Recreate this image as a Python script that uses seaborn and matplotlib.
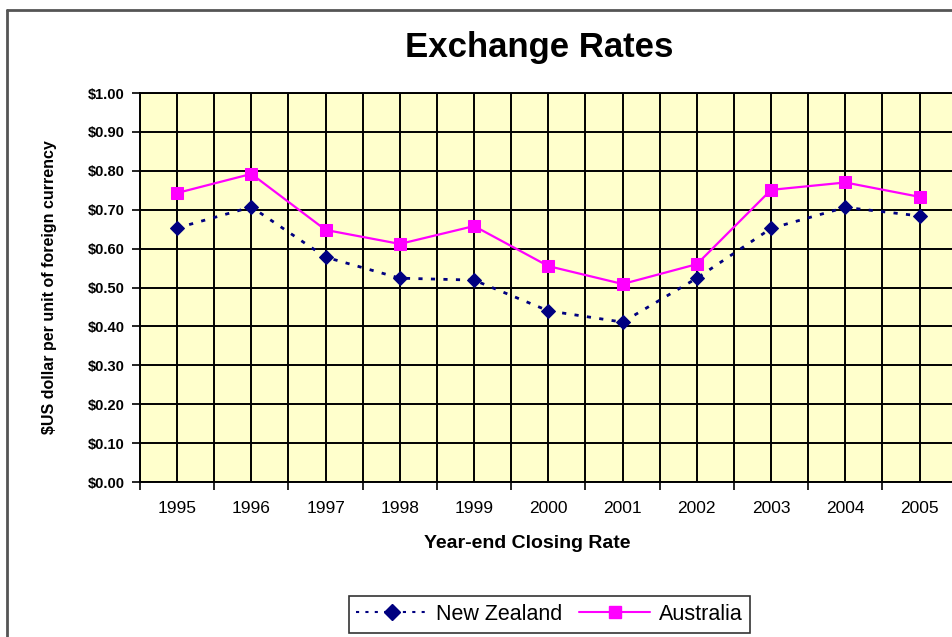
import numpy as np
import pandas as pd
import matplotlib
matplotlib.use("Agg")
import matplotlib.pyplot as plt
from matplotlib.lines import Line2D
import seaborn as sns

years = ["1995", "1996", "1997", "1998", "1999", "2000", "2001", "2002", "2003", "2004", "2005"]
new_zealand = [0.653, 0.707, 0.578, 0.524, 0.519, 0.440, 0.411, 0.524, 0.652, 0.706, 0.684]
australia = [0.743, 0.792, 0.648, 0.612, 0.658, 0.555, 0.509, 0.560, 0.751, 0.770, 0.733]
y_ticks = [0.0, 0.1, 0.2, 0.3, 0.4, 0.5, 0.6, 0.7, 0.8, 0.9, 1.0]
y_tick_labels = ["$0.00", "$0.10", "$0.20", "$0.30", "$0.40", "$0.50",
                 "$0.60", "$0.70", "$0.80", "$0.90", "$1.00"]

sns.set_theme(style="white")
plt.rcParams['font.family'] = ['Liberation Sans', 'DejaVu Sans']
plt.rcParams['text.color'] = 'black'
plt.rcParams['axes.labelcolor'] = 'black'
plt.rcParams['xtick.color'] = 'black'
plt.rcParams['ytick.color'] = 'black'

df = pd.DataFrame({
    "idx": list(range(len(years))) * 2,
    "rate": new_zealand + australia,
    "country": ["New Zealand"] * len(years) + ["Australia"] * len(years),
})

fig = plt.figure(figsize=(9.53, 6.37), dpi=100)
ax = fig.add_axes([0.1469, 0.2433, 0.857, 0.6107])
ax.set_facecolor("#FFFFCC")

sns.lineplot(data=df[df.country == "New Zealand"], x="idx", y="rate", ax=ax,
             color="#000080", linestyle=(0, (1.5, 3)), linewidth=2,
             marker="D", markersize=7, markeredgecolor="#000080", legend=False, zorder=4)
sns.lineplot(data=df[df.country == "Australia"], x="idx", y="rate", ax=ax,
             color="#FF00FF", linestyle="-", linewidth=1.6,
             marker="s", markersize=9, markeredgecolor="#FF00FF", legend=False, zorder=5)

n = len(years)
ax.set_xlim(-0.5, n - 0.5)
ax.set_ylim(0, 1.0)

# grid lines
for v in np.arange(-0.5, n - 0.5 + 0.01, 0.5):
    ax.axvline(v, color="black", lw=1.4, zorder=1)
for v in y_ticks:
    ax.axhline(v, color="black", lw=1.4, zorder=1)

ax.set_xticks(np.arange(-0.5, n + 0.5, 1.0))
ax.set_xticklabels([])
ax.set_xticks(np.arange(n), minor=True)
ax.set_xticklabels(years, minor=True, fontsize=12.5)
ax.tick_params(axis="x", which="major", direction="out", length=6, width=1.2, color="black", bottom=True)
ax.tick_params(axis="x", which="minor", length=0, pad=14)

ax.set_yticks(y_ticks)
ax.set_yticklabels(y_tick_labels, fontsize=10.5, fontweight="bold", color="black")
ax.tick_params(axis="y", direction="out", length=6, width=1.2, color="black", left=True, pad=5)

for s in ["left", "bottom", "top", "right"]:
    ax.spines[s].set_color("black")
    ax.spines[s].set_linewidth(1.4)

ax.set_xlabel("Year-end Closing Rate", fontsize=14, fontweight="bold")
ax.xaxis.set_label_coords(0.474, -0.135)
ax.set_ylabel("$US dollar per unit of foreign currency", fontsize=11.5, fontweight="bold")
ax.yaxis.set_label_coords(-0.102, 0.5)

fig.text(0.566, 0.926, "Exchange Rates", ha="center", va="center", fontsize=25, fontweight="bold")

handles = [
    Line2D([0], [0], color="#000080", linestyle=(0, (1.5, 3)), linewidth=1.5, marker="D", markersize=8),
    Line2D([0], [0], color="#FF00FF", linestyle="-", linewidth=1.5, marker="s", markersize=9),
]
leg = fig.legend(handles, ["New Zealand", "Australia"], loc="center", bbox_to_anchor=(0.5766, 0.0353),
                 ncol=2, frameon=True, fancybox=False, fontsize=15.5, handlelength=3.3,
                 columnspacing=0.8, handletextpad=0.4, borderpad=0.35, edgecolor="black")
leg.get_frame().set_linewidth(1.2)

# chart area border
fig.add_artist(Line2D([7 / 953, 1.0], [1 - 10 / 637, 1 - 10 / 637], transform=fig.transFigure,
                      color="#555555", lw=2))
fig.add_artist(Line2D([7 / 953, 7 / 953], [0, 1 - 10 / 637], transform=fig.transFigure,
                      color="#555555", lw=2))

fig.savefig("out.png", dpi=100)
